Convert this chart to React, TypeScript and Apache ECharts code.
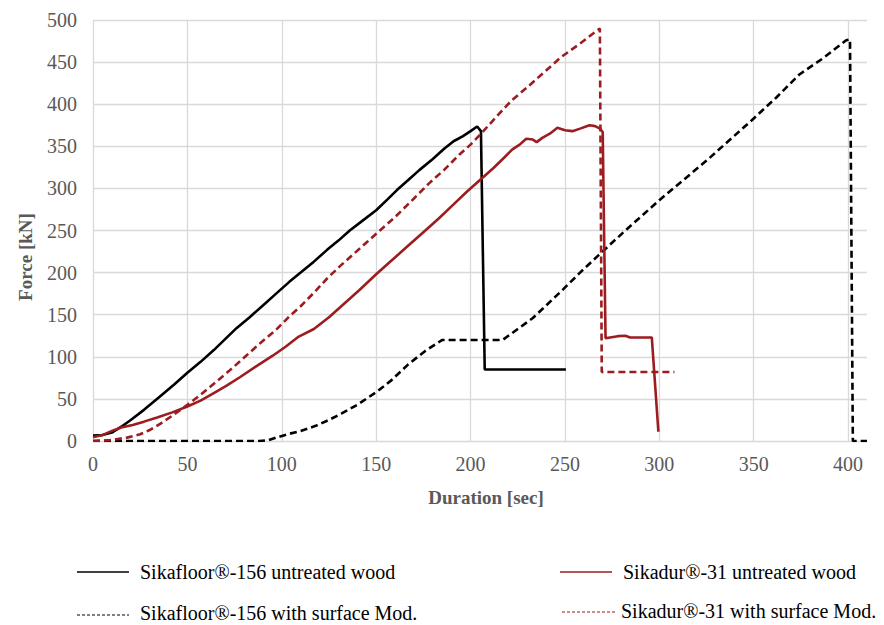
import React, { useEffect, useRef } from "react";
import * as echarts from "echarts";

const X_TICKS_MAX = 410;
const Y_TICKS_MAX = 500;

const seriesNames = [
  "Sikafloor®-156 untreated wood",
  "Sikafloor®-156 with surface Mod.",
  "Sikadur®-31 untreated wood",
  "Sikadur®-31 with surface Mod.",
];

const sikafloorUntreated = [
  [0, 6.5], [5, 7], [10, 10], [15, 17], [20, 25], [27, 37], [35, 52], [43, 67], [50, 81],
  [57, 94], [64, 108], [70, 121], [76, 134], [83, 147], [90, 161], [97, 175], [104, 189],
  [110, 200], [117, 213], [124, 227], [130, 238], [136, 250], [143, 262], [150, 274],
  [156, 287], [161, 298], [167, 310], [173, 322], [180, 335], [186, 347], [191, 356],
  [196, 362], [200, 368], [203.5, 373.5], [205.5, 368], [207.5, 85], [250.5, 85],
];

const sikafloorMod = [
  [0, 0], [88, 0], [93, 1], [97, 4], [103, 8], [110, 12], [118, 18], [125, 25], [132, 33],
  [140, 43], [150, 58], [158, 72], [167, 91], [176, 107], [185, 120], [217, 120], [225, 133],
  [233, 146], [241, 163], [249, 180], [258, 200], [268, 221], [282, 250], [300, 286],
  [325, 333], [349, 381], [362, 408], [374, 435], [387, 455], [399, 476], [401, 477],
  [402.5, 0], [410, 0],
];

const sikadurUntreated = [
  [0, 4.5], [5, 7], [10, 12], [15, 16], [21, 19], [27, 23], [34, 28], [42, 34], [50, 41],
  [57, 48], [64, 57], [71, 66], [78, 76], [86, 88], [95, 101], [102, 112], [109, 124],
  [117, 133], [125, 147], [133, 163], [141, 179], [150, 198], [158, 214], [166, 230],
  [175, 248], [183, 264], [191, 281], [198, 296], [205, 310], [212, 324], [218, 337],
  [222, 346], [226, 352], [229.5, 359], [233, 358], [235, 355], [238, 360], [242, 365],
  [246, 372], [250, 369], [254, 368], [258, 371], [263, 375], [266, 374], [268.5, 371],
  [270, 367], [271.5, 122], [278, 124.5], [282, 125], [284.5, 123], [296, 123], [299.5, 11],
];

const sikadurMod = [
  [0, 0], [9, 1], [18, 4], [25, 8], [30, 13], [36, 21], [42, 30], [50, 43], [57, 55],
  [64, 68], [72, 83], [81, 101], [89, 117], [97, 132], [104, 148], [110, 160], [117, 176],
  [124, 193], [131, 208], [138, 222], [145, 236], [152, 250], [160, 266], [170, 288],
  [178, 306], [186, 322], [194, 340], [200, 352], [206, 366], [214, 386], [222, 405],
  [230, 420], [240, 440], [248, 456], [258, 472], [268.5, 490], [269.5, 82], [308, 82],
];

const BLACK = "#000000";
const RED = "#9c1c1f";
const FONT = "Liberation Serif";

export default function App() {
  const ref = useRef<HTMLDivElement>(null);

  useEffect(() => {
    if (!ref.current) return;
    const chart = echarts.init(ref.current, null, { renderer: "svg" });

    const legendEntry = (
      name: string,
      x1: number,
      x2: number,
      lineY: number,
      textX: number,
      textY: number,
      color: string,
      dashed: boolean
    ) => [
      {
        type: "line",
        shape: { x1, y1: lineY, x2, y2: lineY },
        style: dashed
          ? { stroke: color, lineWidth: 1, lineDash: [3, 2] }
          : { stroke: color, lineWidth: 1.3 },
        silent: true,
      },
      {
        type: "text",
        x: textX,
        y: textY,
        style: {
          text: name,
          fontFamily: FONT,
          fontSize: 20,
          fill: "#000",
          align: "left",
          verticalAlign: "middle",
        },
        silent: true,
      },
    ];

    chart.setOption({
      animation: false,
      backgroundColor: "#ffffff",
      textStyle: { fontFamily: FONT },
      grid: { left: 93, top: 20, right: 17, bottom: 184, containLabel: false },
      xAxis: {
        type: "value",
        min: 0,
        max: X_TICKS_MAX,
        interval: 50,
        axisLine: { show: false },
        axisTick: { show: false },
        splitLine: { show: true, showMaxLine: false, lineStyle: { color: "#d9d9d9", width: 1.3 } },
        axisLabel: {
          color: "#595959",
          fontFamily: FONT,
          fontSize: 20,
          margin: 13,
          showMaxLabel: false,
          formatter: (v: number) => (v > 400 ? "" : String(v)),
        },
      },
      yAxis: {
        type: "value",
        min: 0,
        max: Y_TICKS_MAX,
        interval: 50,
        axisLine: { show: false },
        axisTick: { show: false },
        splitLine: { show: true, lineStyle: { color: "#d9d9d9", width: 1.3 } },
        axisLabel: {
          color: "#595959",
          fontFamily: FONT,
          fontSize: 20,
          margin: 16,
        },
      },
      graphic: [
        {
          type: "text",
          x: 25,
          y: 257,
          rotation: Math.PI / 2,
          style: {
            text: "Force [kN]",
            fontFamily: FONT,
            fontWeight: "bold",
            fontSize: 19,
            fill: "#595959",
            align: "center",
            verticalAlign: "middle",
          },
        },
        {
          type: "text",
          x: 486,
          y: 497,
          style: {
            text: "Duration [sec]",
            fontFamily: FONT,
            fontWeight: "bold",
            fontSize: 19,
            fill: "#595959",
            align: "center",
            verticalAlign: "middle",
          },
        },
        ...legendEntry(seriesNames[0], 77, 129, 572, 140, 572, BLACK, false),
        ...legendEntry(seriesNames[1], 77, 129, 615, 140, 613, BLACK, true),
        ...legendEntry(seriesNames[2], 560, 612, 572, 623, 572, RED, false),
        ...legendEntry(seriesNames[3], 562, 615, 612, 621, 611, RED, true),
      ],
      series: [
        {
          name: seriesNames[0],
          type: "line",
          data: sikafloorUntreated,
          symbol: "none",
          lineStyle: { color: BLACK, width: 2.6, type: "solid" },
          itemStyle: { color: BLACK },
        },
        {
          name: seriesNames[1],
          type: "line",
          data: sikafloorMod,
          symbol: "none",
          lineStyle: { color: BLACK, width: 2.6, type: [7, 4] },
          itemStyle: { color: BLACK },
        },
        {
          name: seriesNames[2],
          type: "line",
          data: sikadurUntreated,
          symbol: "none",
          lineStyle: { color: RED, width: 2.6, type: "solid" },
          itemStyle: { color: RED },
        },
        {
          name: seriesNames[3],
          type: "line",
          data: sikadurMod,
          symbol: "none",
          lineStyle: { color: RED, width: 2.6, type: [7, 4] },
          itemStyle: { color: RED },
        },
      ],
    });

    return () => chart.dispose();
  }, []);

  return (
    <div
      ref={ref}
      style={{ position: "fixed", left: 0, top: 0, width: 884, height: 625, background: "#fff" }}
    />
  );
}
